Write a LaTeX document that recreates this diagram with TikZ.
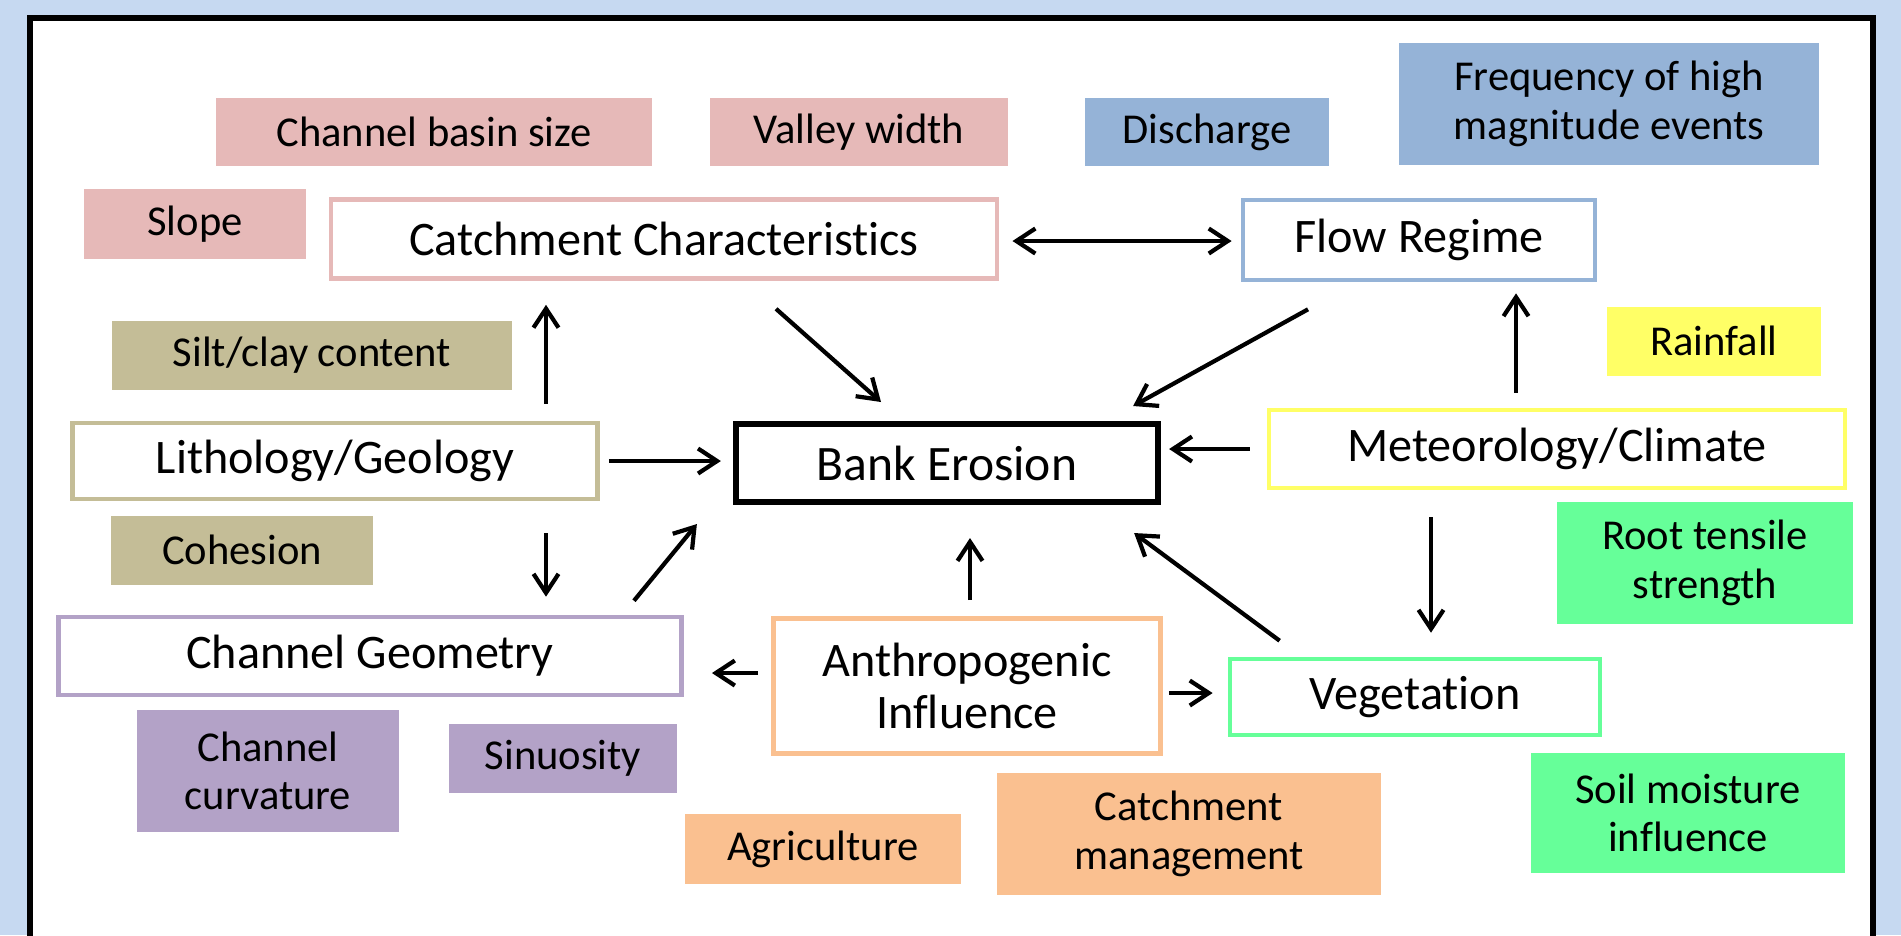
\documentclass[tikz,border=0pt]{standalone}
\usepackage{fontspec}
\setmainfont{Carlito}[Ligatures=NoCommon]
\usetikzlibrary{calc,arrows.meta}
\definecolor{bgblue}{HTML}{C6D9F1}
\definecolor{pinkbox}{HTML}{E6B9B8}
\definecolor{bluebox}{HTML}{95B3D7}
\definecolor{khakibox}{HTML}{C4BD97}
\definecolor{yellowbox}{HTML}{FFFF66}
\definecolor{greenbox}{HTML}{66FF99}
\definecolor{purplebox}{HTML}{B3A2C7}
\definecolor{orangebox}{HTML}{FAC090}

\begin{document}
\begin{tikzpicture}[x=0.01cm, y=-0.01cm,
    >={Straight Barb[length=1.9mm,width=2.5mm]},
    every node/.style={align=center, inner sep=0pt},
    factor/.style={fill=#1, draw=none, font=\fontsize{12.1}{13.8}\selectfont},
    group/.style={draw=#1, fill=white, line width=1.3pt, font=\fontsize{13.7}{14.6}\selectfont},
    link/.style={->, line width=1.2pt}]
    % Background and frame
    \fill[bgblue] (0,0) rectangle (1901,935);
    \useasboundingbox (0,0) rectangle (1901,935);
    \draw[line width=1.5pt, fill=white] (30,18) rectangle (1873,980);

    % Main factors
    \node [group=black, line width=1.7pt,
        font=\fontsize{14.1}{15}\selectfont,
        minimum width=4.22cm,
        minimum height=0.78cm
    ] (BankErosion) at (947,463) {Bank Erosion};
    \node [group=pinkbox,
        minimum width=6.66cm,
        minimum height=0.79cm
    ] (Catchment) at (664,239) {Catchment Characteristics};
    \node [group=bluebox,
        minimum width=3.52cm,
        minimum height=0.80cm
    ] (FlowRegime) at (1419,240) {Flow Regime};
    \node [group=khakibox,
        minimum width=5.25cm,
        minimum height=0.76cm
    ] (Lithology) at (335,461) {Lithology/Geology};
    \node [group=yellowbox,
        minimum width=5.76cm,
        minimum height=0.78cm
    ] (Climate) at (1557,449) {Meteorology/Climate};
    \node [group=purplebox,
        minimum width=6.23cm,
        minimum height=0.78cm
    ] (Geometry) at (370,656) {Channel Geometry};
    \node [group=orangebox,
        minimum width=3.87cm,
        minimum height=1.35cm
    ] (Anthropogenic) at (967,686) {Anthropogenic\\Influence};
    \node [group=greenbox,
        minimum width=3.70cm,
        minimum height=0.76cm
    ] (Vegetation) at (1415,697) {Vegetation};

    % Sub factors
    \node [factor=pinkbox, minimum width=4.36cm, minimum height=0.68cm]
        (BasinSize) at (434,132) {Channel basin size};
    \node [factor=pinkbox, minimum width=2.98cm, minimum height=0.68cm]
        (ValleyWidth) at (859,132) {Valley width};
    \node [factor=pinkbox, minimum width=2.21cm, minimum height=0.69cm]
        (Slope) at (195,224) {Slope};
    \node [factor=bluebox, minimum width=2.44cm, minimum height=0.68cm]
        (Discharge) at (1207,132) {Discharge};
    \node [factor=bluebox, minimum width=4.19cm, minimum height=1.21cm]
        (Frequency) at (1609,104) {Frequency of high\\magnitude events};
    \node [factor=khakibox, minimum width=4.00cm, minimum height=0.69cm]
        (SiltClay) at (312,355) {Silt/clay content};
    \node [factor=khakibox, minimum width=2.61cm, minimum height=0.69cm]
        (Cohesion) at (242,550) {Cohesion};
    \node [factor=yellowbox, minimum width=2.13cm, minimum height=0.69cm]
        (Rainfall) at (1714,341) {Rainfall};
    \node [factor=greenbox, minimum width=2.96cm, minimum height=1.21cm]
        (RootStrength) at (1705,563) {Root tensile\\strength};
    \node [factor=greenbox, minimum width=3.13cm, minimum height=1.20cm]
        (SoilMoisture) at (1688,813) {Soil moisture\\influence};
    \node [factor=purplebox, minimum width=2.62cm, minimum height=1.21cm]
        (Curvature) at (268,771) {Channel\\curvature};
    \node [factor=purplebox, minimum width=2.27cm, minimum height=0.69cm]
        (Sinuosity) at (563,758) {Sinuosity};
    \node [factor=orangebox, minimum width=2.76cm, minimum height=0.70cm]
        (Agriculture) at (823,849) {Agriculture};
    \node [factor=orangebox, minimum width=3.84cm, minimum height=1.21cm]
        (Management) at (1189,834) {Catchment\\management};

    % Arrows between factors
    \draw[link, <->] ($(Catchment.east)+(13,2)$) -- ($(FlowRegime.west)+(-9,1)$);
    \draw[link] ($(Catchment.south)+(112,28)$) -- ($(BankErosion.north)+(-66,-19)$);
    \draw[link] ($(FlowRegime.south)+(-111,27)$) -- ($(BankErosion.north east)+(-28,-15)$);
    \draw[link] ($(Lithology.north)+(211,-17)$) -- ($(Catchment.south)+(-118,24)$);
    \draw[link] ($(Lithology.east)+(9,0)$) -- ($(BankErosion.west)+(-12,-2)$);
    \draw[link] ($(Lithology.south)+(211,32)$) -- ($(Geometry.north)+(176,-18)$);
    \draw[link] ($(Geometry.north east)+(-50,-14)$) -- ($(BankErosion.south west)+(-36,19)$);
    \draw[link] ($(Climate.west)+(-17,0)$) -- ($(BankErosion.east)+(8,-14)$);
    \draw[link] ($(Climate.north)+(-41,-15)$) -- ($(FlowRegime.south)+(97,11)$);
    \draw[link] ($(Climate.south)+(-126,27)$) -- ($(Vegetation.north)+(16,-24)$);
    \draw[link] ($(Anthropogenic.north)+(3,-16)$) -- ($(BankErosion.south)+(23,33)$);
    \draw[link] ($(Vegetation.north west)+(52,-16)$) -- ($(BankErosion.south east)+(-27,28)$);
    \draw[link] ($(Anthropogenic.west)+(-13,-13)$) -- ($(Geometry.east)+(28,17)$);
    \draw[link] ($(Anthropogenic.east)+(6,7)$) -- ($(Vegetation.west)+(-15,-4)$);

\end{tikzpicture}
\end{document}
